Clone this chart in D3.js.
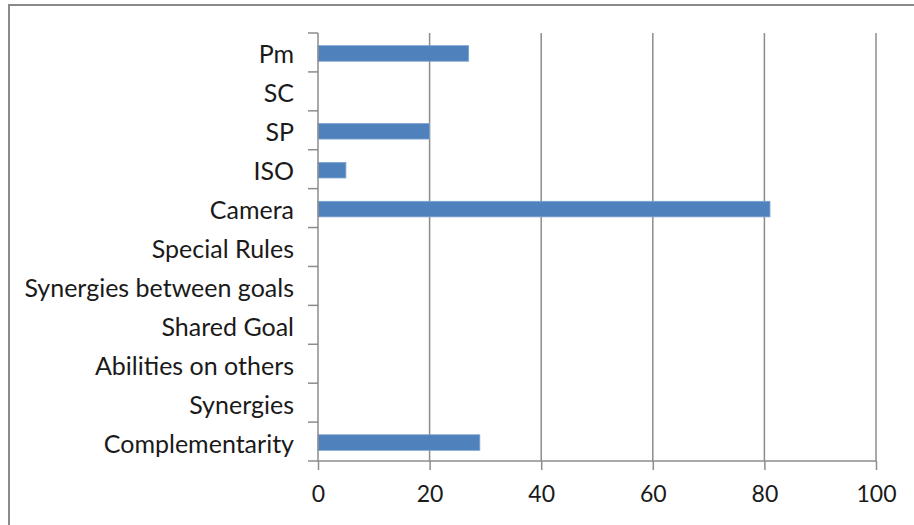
<!DOCTYPE html>
<html>
<head>
<meta charset="utf-8">
<script src="https://cdn.jsdelivr.net/npm/d3@7"></script>
<style>
  html, body { margin: 0; padding: 0; background: #fff; }
  svg { display: block; }
  text { font-family: Lato, "Open Sans", sans-serif; fill: #1a1a1a; }
</style>
</head>
<body>
<svg id="chart" width="914" height="525"></svg>
<script>
// Categories listed top to bottom
const categories = [
  "Pm", "SC", "SP", "ISO", "Camera", "Special Rules",
  "Synergies between goals", "Shared Goal", "Abilities on others",
  "Synergies", "Complementarity"
];
const values = [27, 0, 20, 5, 81, 0, 0, 0, 0, 0, 29];
const xTicks = [0, 20, 40, 60, 80, 100];

const svg = d3.select("#chart");
const plot = { left: 318, right: 876, top: 33, bottom: 461 };

// Outer chart frame
svg.append("rect")
  .attr("x", 9).attr("y", 5)
  .attr("width", 930).attr("height", 540)
  .attr("fill", "none")
  .attr("stroke", "#8a8a8a")
  .attr("stroke-width", 2);

const x = d3.scaleLinear().domain([0, 100]).range([plot.left, plot.right]);
const y = d3.scaleBand().domain(categories).range([plot.top, plot.bottom]).padding(0);

// Vertical gridlines
svg.append("g")
  .selectAll("line")
  .data(xTicks.filter(d => d > 0))
  .join("line")
  .attr("x1", d => x(d)).attr("x2", d => x(d))
  .attr("y1", plot.top).attr("y2", plot.bottom)
  .attr("stroke", "#8c8c8c")
  .attr("stroke-width", 1.5);

// Bars (Excel-style gap width of 150%)
const barH = y.bandwidth() / 2.5;
svg.append("g")
  .selectAll("rect")
  .data(categories.map((c, i) => ({ c, v: values[i] })).filter(d => d.v > 0))
  .join("rect")
  .attr("x", x(0))
  .attr("y", d => y(d.c) + (y.bandwidth() - barH) / 2 + 1)
  .attr("width", d => x(d.v) - x(0))
  .attr("height", barH)
  .attr("fill", "#4f81bd")
  .attr("stroke", "#7fa3d1")
  .attr("stroke-width", 0.8);

// Bottom axis
const xAxis = d3.axisBottom(x).tickValues(xTicks).tickSize(9).tickPadding(16);
const gx = svg.append("g")
  .attr("transform", `translate(0,${plot.bottom})`)
  .call(xAxis);
gx.select(".domain").attr("stroke", "#8c8c8c").attr("stroke-width", 1.5)
  .attr("d", `M${plot.left},0H${plot.right}`);
gx.selectAll(".tick line").attr("stroke", "#8c8c8c").attr("stroke-width", 1.5);
gx.selectAll(".tick text")
  .style("font-family", "Lato, sans-serif")
  .attr("font-size", 23)
  .attr("fill", "#1a1a1a");

// Left axis: ticks on category boundaries
const boundaries = categories.map(c => y(c)).concat([plot.bottom]);
svg.append("line")
  .attr("x1", plot.left).attr("x2", plot.left)
  .attr("y1", plot.top).attr("y2", plot.bottom)
  .attr("stroke", "#8c8c8c").attr("stroke-width", 1.5);
svg.append("g")
  .selectAll("line")
  .data(boundaries)
  .join("line")
  .attr("x1", plot.left - 10).attr("x2", plot.left)
  .attr("y1", d => d).attr("y2", d => d)
  .attr("stroke", "#8c8c8c").attr("stroke-width", 1.5);

// Category labels
svg.append("g")
  .selectAll("text")
  .data(categories)
  .join("text")
  .attr("x", 294)
  .attr("y", d => y(d) + y.bandwidth() / 2 + 1)
  .attr("text-anchor", "end")
  .attr("dominant-baseline", "central")
  .attr("font-size", 25)
  .text(d => d);
</script>
</body>
</html>
